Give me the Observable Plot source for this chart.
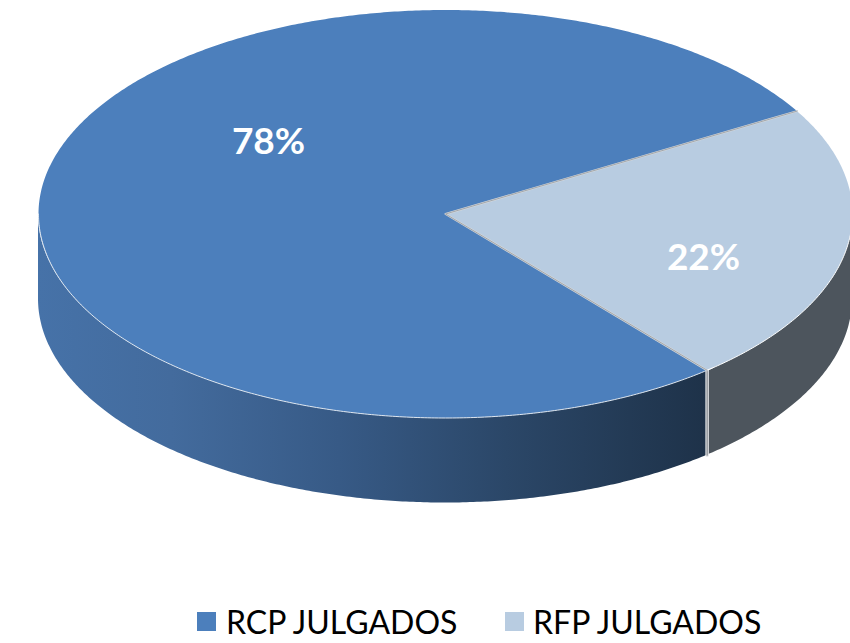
<!DOCTYPE html>
<html>
<head>
<meta charset="utf-8">
<script src="https://cdn.jsdelivr.net/npm/d3@7"></script>
<script src="https://cdn.jsdelivr.net/npm/@observablehq/plot@0.6"></script>
<style>
html,body{margin:0;padding:0;background:#fff;overflow:hidden}
svg{display:block}
#legend{position:relative;height:43px;font-family:Lato,sans-serif;font-size:32px;color:#000;line-height:43px;white-space:nowrap}
#legend i{position:absolute;top:12px;width:19px;height:19px}
#legend span{position:absolute;top:0}
</style>
</head>
<body>
<script>
const categories = ["RCP JULGADOS", "RFP JULGADOS"];
const shares = [77.7, 22.3];
const labels = ["78%", "22%"];
const colors = ["#4c7fbc", "#b8cce1"];

// projection of the tilted disc
const W = 850, H = 600;
const cx = 445, cy = 213.5, rx = 407, ry = 204, depth = 85;
const startDeg = 50;           // where the first slice begins (clockwise on screen)
const labelAt = [[268, 142], [703, 258]];

const px = d => cx + rx * Math.cos(d * Math.PI / 180);
const py = d => cy + ry * Math.sin(d * Math.PI / 180);
const sweep = d3.range(2).map(i => shares[i] / d3.sum(shares) * 360);
const a0 = startDeg, a1 = a0 + sweep[0], a2 = a1 + sweep[1];

const arc = (from, to) => {
  const n = Math.max(2, Math.ceil(Math.abs(to - from) * 2));
  return d3.range(n + 1).map(i => {
    const d = from + (to - from) * i / n;
    return {x: px(d), y: py(d), y2: py(d) + depth};
  });
};
const centre = {x: cx, y: cy};
const sectorA = [centre, ...arc(a0, a1), centre];
const sectorB = [centre, ...arc(a1, a2), centre];
const sideA = arc(a0, 180);
const sideB = arc(360, a2);
const edge = [{x: px(a0), y: py(a0)}, {x: px(a0), y: py(a0) + depth}];

const textData = labels.map((t, i) => ({t, x: labelAt[i][0], y: labelAt[i][1]}));

const chart = Plot.plot({
  width: W, height: H,
  margin: 0,
  x: {domain: [0, W], range: [0, W], axis: null},
  y: {domain: [0, H], range: [0, H], axis: null},
  marks: [
    Plot.areaY(sideA, {x: "x", y1: "y", y2: "y2", fill: "url(#sideGradA)"}),
    Plot.areaY(sideB, {x: "x", y1: "y", y2: "y2", fill: "#4d555d"}),
    Plot.line(edge, {x: "x", y: "y", stroke: "#e4e6e8", strokeWidth: 3.5}),
    Plot.line(edge, {x: "x", y: "y", stroke: "#6f757b", strokeWidth: 1}),
    Plot.line(sectorA, {x: "x", y: "y", fill: colors[0], stroke: "none"}),
    Plot.line(sectorB, {x: "x", y: "y", fill: colors[1], stroke: "none"}),
    Plot.line(arc(a0 - 1, 180), {x: "x", y: "y", stroke: "#dfe7f0", strokeWidth: 1}),
    Plot.line(arc(360, a2), {x: "x", y: "y", stroke: "#ffffff", strokeWidth: 1}),
    Plot.line([{x: px(a1), y: py(a1)}, centre, {x: px(a0), y: py(a0)}], {x: "x", y: "y", stroke: "#d6d9dc", strokeWidth: 2}),
    Plot.line([{x: px(a1), y: py(a1)}, centre, {x: px(a0), y: py(a0)}], {x: "x", y: "y", stroke: "#8b9096", strokeWidth: 0.7}),
    Plot.text(textData, {x: "x", y: "y", text: "t", fill: "#ffffff", fontSize: 37, fontWeight: 700, fontFamily: "Lato, sans-serif", textAnchor: "middle"})
  ]
});

const defs = d3.select(chart).insert("defs", ":first-child");
const grad = defs.append("linearGradient").attr("id", "sideGradA")
  .attr("gradientUnits", "userSpaceOnUse")
  .attr("x1", px(180)).attr("x2", px(a0)).attr("y1", 0).attr("y2", 0);
[[0, "#4672a8"], [0.2, "#436b9d"], [0.45, "#375a86"], [0.7, "#2b4768"], [1, "#1e3249"]]
  .forEach(([o, c]) => grad.append("stop").attr("offset", o).attr("stop-color", c));
document.body.appendChild(chart);

const legend = d3.select(document.body).append("div").attr("id", "legend");
const swatchX = [197, 505], nameX = [226, 533];
categories.forEach((c, i) => {
  legend.append("i").style("left", swatchX[i] + "px").style("background", colors[i]);
  legend.append("span").style("left", nameX[i] + "px").text(c);
});
</script>
</body>
</html>
